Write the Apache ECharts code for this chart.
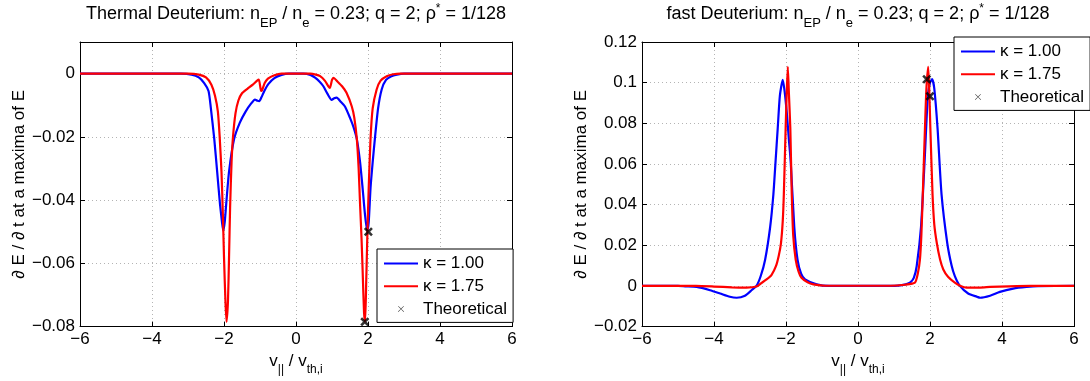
<!DOCTYPE html>
<html>
<head>
<meta charset="utf-8">
<script src="https://cdn.jsdelivr.net/npm/echarts@6/dist/echarts.min.js"></script>
<style>
html, body { margin: 0; padding: 0; background: #fff; }
#chart { width: 1090px; height: 381px; }
</style>
</head>
<body>
<div id="chart"></div>
<script>
// values
var xTicks = [-6, -4, -2, 0, 2, 4, 6];
var legendNames = ["κ = 1.00", "κ = 1.75", "Theoretical"];

// left panel: thermal deuterium
var thermalK100 = [
  [-6, 0], [-3.2, 0], [-2.9, -0.0003], [-2.7, -0.0012], [-2.55, -0.003], [-2.43, -0.0055],
  [-2.37, -0.0104], [-2.27, -0.0207], [-2.19, -0.031], [-2.11, -0.0414], [-2.05, -0.0475],
  [-2.02, -0.0497], [-1.98, -0.047], [-1.94, -0.0414], [-1.86, -0.031], [-1.72, -0.0207],
  [-1.56, -0.0155], [-1.4, -0.012], [-1.25, -0.0095], [-1.14, -0.0082], [-1.07, -0.0086],
  [-1.02, -0.0087], [-0.96, -0.0075], [-0.88, -0.0055], [-0.77, -0.0033], [-0.6, -0.0014],
  [-0.4, -0.0004], [-0.2, 0], [0.2, 0], [0.4, -0.0004], [0.53, -0.0013], [0.65, -0.0025],
  [0.76, -0.004], [0.88, -0.0065], [0.99, -0.0083], [1.06, -0.0078], [1.13, -0.0076],
  [1.25, -0.009], [1.36, -0.0104], [1.5, -0.014], [1.6, -0.017], [1.69, -0.0207],
  [1.78, -0.028], [1.85, -0.0362], [1.92, -0.045], [1.98, -0.0497], [2.02, -0.047],
  [2.07, -0.0362], [2.13, -0.028], [2.19, -0.0207], [2.28, -0.011], [2.38, -0.005],
  [2.5, -0.002], [2.65, -0.0008], [2.8, -0.0003], [3.0, 0], [6, 0]
];
var thermalK175 = [
  [-6, 0], [-3.0, 0], [-2.7, -0.0003], [-2.5, -0.0012], [-2.35, -0.0035], [-2.25, -0.007],
  [-2.17, -0.012], [-2.12, -0.02], [-2.07, -0.031], [-2.03, -0.045], [-2.0, -0.058],
  [-1.96, -0.072], [-1.93, -0.0785], [-1.89, -0.072], [-1.86, -0.058], [-1.83, -0.042],
  [-1.79, -0.028], [-1.75, -0.02], [-1.68, -0.0125], [-1.6, -0.0085], [-1.5, -0.0062],
  [-1.35, -0.0048], [-1.2, -0.0035], [-1.08, -0.0022], [-1.03, -0.0019], [-0.97, -0.0055],
  [-0.94, -0.0052], [-0.87, -0.003], [-0.78, -0.0016], [-0.6, -0.0005], [-0.4, 0],
  [0.4, 0], [0.55, -0.0003], [0.67, -0.0008], [0.8, -0.0022], [0.9, -0.004], [0.94, -0.0045],
  [1.0, -0.002], [1.04, -0.0013], [1.15, -0.0025], [1.28, -0.004], [1.4, -0.006],
  [1.55, -0.0104], [1.62, -0.014], [1.69, -0.0207], [1.74, -0.03], [1.78, -0.0414],
  [1.82, -0.052], [1.85, -0.062], [1.89, -0.0755], [1.92, -0.0785], [1.95, -0.066],
  [1.98, -0.052], [2.02, -0.036], [2.07, -0.0207], [2.13, -0.011], [2.24, -0.005],
  [2.35, -0.0022], [2.52, -0.0008], [2.7, -0.0002], [2.9, 0], [6, 0]
];
var thermalTheory = [[2.01, -0.050], [1.91, -0.0785]];

// right panel: fast deuterium
var fastK100 = [
  [-6, 0], [-5.0, 0], [-4.8, -0.0002], [-4.48, -0.0005], [-4.11, -0.0021], [-3.83, -0.0037],
  [-3.56, -0.0053], [-3.37, -0.0058], [-3.14, -0.0048], [-2.95, -0.002], [-2.82, 0],
  [-2.7, 0.005], [-2.58, 0.0129], [-2.44, 0.029], [-2.35, 0.0452], [-2.29, 0.0613],
  [-2.23, 0.0775], [-2.17, 0.0936], [-2.09, 0.1014], [-2.04, 0.096], [-1.98, 0.0856],
  [-1.92, 0.072], [-1.87, 0.0613], [-1.77, 0.029], [-1.68, 0.0129], [-1.58, 0.006],
  [-1.47, 0.0032], [-1.15, 0.0008], [-0.8, 0], [0.8, 0], [1.17, 0.0003], [1.44, 0.0016],
  [1.55, 0.004], [1.63, 0.0097], [1.75, 0.029], [1.85, 0.0613], [1.94, 0.0936], [2.0, 0.1],
  [2.06, 0.1017], [2.12, 0.097], [2.21, 0.0775], [2.32, 0.0452], [2.48, 0.021], [2.6, 0.01],
  [2.69, 0.0048], [2.83, 0], [3.06, -0.0037], [3.3, -0.0053], [3.39, -0.0058], [3.67, -0.0048],
  [3.94, -0.0029], [4.31, -0.0013], [4.68, -0.0005], [5.0, -0.0001], [6, 0]
];
var fastK175 = [
  [-6, 0], [-4.5, 0], [-4.0, -0.0003], [-3.5, -0.0007], [-3.1, -0.0008], [-2.82, -0.0003],
  [-2.7, 0.0012], [-2.54, 0.0032], [-2.4, 0.0055], [-2.28, 0.0097], [-2.2, 0.015],
  [-2.14, 0.021], [-2.09, 0.032], [-2.06, 0.0452], [-2.01, 0.0775], [-1.98, 0.095],
  [-1.95, 0.1078], [-1.92, 0.095], [-1.88, 0.0775], [-1.84, 0.0452], [-1.8, 0.025],
  [-1.73, 0.0129], [-1.65, 0.007], [-1.57, 0.004], [-1.4, 0.0018], [-1.24, 0.0008],
  [-0.9, 0.0001], [0.9, 0.0001], [1.3, 0.0006], [1.58, 0.0016], [1.66, 0.006], [1.72, 0.0129],
  [1.76, 0.025], [1.8, 0.0452], [1.86, 0.0775], [1.9, 0.097], [1.95, 0.1078], [1.98, 0.096],
  [2.01, 0.0775], [2.07, 0.0452], [2.12, 0.03], [2.19, 0.021], [2.28, 0.013], [2.37, 0.0081],
  [2.5, 0.0045], [2.69, 0.0016], [2.85, 0], [3.02, -0.0008], [3.4, -0.0008], [3.67, -0.0005],
  [4.2, -0.0002], [4.8, 0], [6, 0]
];
var fastTheory = [[1.91, 0.1017], [2.0, 0.0933]];

var FONT = "Liberation Sans, Arial, Helvetica, sans-serif";
var boldCross = "path://M0,2L2,0L5,3L8,0L10,2L7,5L10,8L8,10L5,7L2,10L0,8L3,5Z";
var thinCross = "path://M0,0.6L0.6,0L5,4.4L9.4,0L10,0.6L5.6,5L10,9.4L9.4,10L5,5.6L0.6,10L0,9.4L4.4,5Z";
var lineIcon = "path://M0,0L34,0L34,2L0,2Z";

function fmt(v) {
  var r = Math.round(v * 1e6) / 1e6;
  return r < 0 ? "\u2212" + String(-r) : String(r);
}

var titleRich = {
  sub: { fontSize: 13, fontFamily: FONT, color: "#000", padding: [19, 0, 0, 0] },
  sup: { fontSize: 12, fontFamily: FONT, color: "#000", padding: [0, 0, 10, 0] }
};
var axisRich = {
  sub: { fontSize: 12, fontFamily: FONT, color: "#000", padding: [18, 0, 0, 0] }
};

function mainX(grid) {
  return {
    gridIndex: grid, type: "value", position: "bottom",
    min: -6, max: 6, interval: 2,
    name: "v{sub|||} / v{sub|th,i}", nameLocation: "middle", nameGap: 11,
    nameTextStyle: { fontSize: 17, fontFamily: FONT, color: "#000", rich: axisRich },
    axisLine: { show: true, onZero: false, lineStyle: { color: "#000", width: 1 } },
    axisTick: { show: true, inside: true, length: 5, lineStyle: { color: "#000" } },
    axisLabel: { fontSize: 17, fontFamily: FONT, color: "#000", margin: 4, formatter: fmt },
    splitLine: { show: true, lineStyle: { color: "#b4b4b4", type: [1, 3], width: 1 } }
  };
}
function topX(grid) {
  return {
    gridIndex: grid, type: "value", position: "top",
    min: -6, max: 6, interval: 2,
    axisLine: { show: true, onZero: false, lineStyle: { color: "#000", width: 1 } },
    axisTick: { show: true, inside: true, length: 5, lineStyle: { color: "#000" } },
    axisLabel: { show: false }, splitLine: { show: false }
  };
}
function mainY(grid, min, max) {
  return {
    gridIndex: grid, type: "value", position: "left",
    min: min, max: max, interval: 0.02,
    name: "\u2202 E / \u2202 t at a maxima of E", nameLocation: "middle", nameGap: 51,
    nameTextStyle: { fontSize: 17, fontFamily: FONT, color: "#000" },
    axisLine: { show: true, onZero: false, lineStyle: { color: "#000", width: 1 } },
    axisTick: { show: true, inside: true, length: 5, lineStyle: { color: "#000" } },
    axisLabel: { fontSize: 17, fontFamily: FONT, color: "#000", margin: 5, formatter: fmt, showMaxLabel: max > 0.1 },
    splitLine: { show: true, lineStyle: { color: "#b4b4b4", type: [1, 3], width: 1 } }
  };
}
function rightY(grid, min, max) {
  return {
    gridIndex: grid, type: "value", position: "right",
    min: min, max: max, interval: 0.02,
    axisLine: { show: true, onZero: false, lineStyle: { color: "#000", width: 1 } },
    axisTick: { show: true, inside: true, length: 5, lineStyle: { color: "#000" } },
    axisLabel: { show: false }, splitLine: { show: false }
  };
}
function legendAt(left, top) {
  return {
    left: left, top: top, orient: "vertical",
    data: [
      { name: legendNames[0], icon: lineIcon },
      { name: legendNames[1], icon: lineIcon },
      { name: legendNames[2], icon: thinCross }
    ],
    backgroundColor: "#fff", borderColor: "#000", borderWidth: 1, borderRadius: 0,
    padding: [6, 6, 5, 7], itemGap: 5.7, itemWidth: 34, itemHeight: 6,
    selectedMode: false,
    textStyle: { fontSize: 17, fontFamily: FONT, color: "#000", lineHeight: 17 }
  };
}
function lineSeries(name, color, data, xi) {
  return {
    name: name, type: "line", data: data, xAxisIndex: xi, yAxisIndex: xi,
    symbol: "none", smooth: 0.2, lineStyle: { color: color, width: 2.2 },
    itemStyle: { color: color }
  };
}
function theorySeries(data, xi) {
  return {
    name: legendNames[2], type: "scatter", data: data, xAxisIndex: xi, yAxisIndex: xi,
    symbol: boldCross, symbolSize: 9, itemStyle: { color: "#000" }, z: 5
  };
}
function titleAt(text, center) {
  return {
    text: text, left: center, textAlign: "center", top: -2, padding: 0,
    textStyle: { fontSize: 18, fontWeight: "normal", fontFamily: FONT, color: "#000", rich: titleRich }
  };
}

var chart = echarts.init(document.getElementById("chart"));
chart.setOption({
  animation: false,
  backgroundColor: "#fff",
  title: [
    titleAt("Thermal Deuterium: n{sub|EP} / n{sub|e} = 0.23; q = 2; \u03c1{sup|*} = 1/128", 296),
    titleAt("fast Deuterium: n{sub|EP} / n{sub|e} = 0.23; q = 2; \u03c1{sup|*} = 1/128", 858)
  ],
  grid: [
    { left: 80, top: 42, width: 432, height: 289 },
    { left: 642, top: 42, width: 432, height: 289 }
  ],
  legend: [legendAt(377, 249), legendAt(954, 37)],
  xAxis: [mainX(0), topX(0), mainX(1), topX(1)],
  yAxis: [mainY(0, -0.08, 0.01), rightY(0, -0.08, 0.01), mainY(1, -0.02, 0.12), rightY(1, -0.02, 0.12)],
  series: [
    lineSeries(legendNames[0], "#0000ff", thermalK100, 0),
    lineSeries(legendNames[1], "#ff0000", thermalK175, 0),
    theorySeries(thermalTheory, 0),
    lineSeries(legendNames[0], "#0000ff", fastK100, 2),
    lineSeries(legendNames[1], "#ff0000", fastK175, 2),
    theorySeries(fastTheory, 2)
  ]
});
</script>
</body>
</html>
